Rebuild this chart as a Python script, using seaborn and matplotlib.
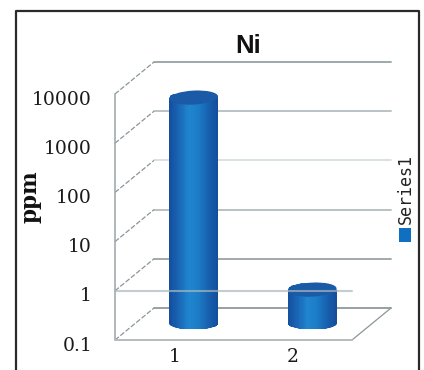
import numpy as np
import matplotlib
matplotlib.use("Agg")
import matplotlib.pyplot as plt
import seaborn as sns
from matplotlib.colors import LinearSegmentedColormap
from matplotlib.lines import Line2D
from matplotlib.patches import Ellipse, PathPatch, Rectangle
from matplotlib.path import Path
from matplotlib.transforms import IdentityTransform, ScaledTranslation

samples = ["1", "2"]
ni_ppm = [4000, 0.5]
tick_values = [0.1, 1, 10, 100, 1000, 10000]
tick_labels = ["0.1", "1", "10", "100", "1000", "10000"]
back_line_colors = ["#8f9a9c", "#98a3a5", "#b3bcbd", "#d6dfe0", "#b4bdc0", "#97a1a4"]

W, H = 424, 370
DPI = 100
DEPTH_X, DEPTH_Y = 39, 32  # pixels, back wall offset

sns.set_theme(style="white")
plt.rcParams["font.family"] = ["DejaVu Serif"]

fig = plt.figure(figsize=(W / DPI, H / DPI), dpi=DPI)
ax = fig.add_axes([115 / W, 1 - 340 / H, 237 / W, 246 / H])
ax.patch.set_alpha(0)

sns.barplot(x=samples, y=ni_ppm, width=0.41, ax=ax, color="#1a62b0")
ax.set_yscale("log")
ax.set_ylim(0.1, 10000)
ax.set_xlim(-0.5, 1.5)
sns.despine(ax=ax, top=True, right=True, left=True, bottom=True)
ax.set_yticks(tick_values)
ax.set_yticklabels([])
ax.minorticks_off()
ax.tick_params(axis="y", length=0)
ax.tick_params(axis="x", length=0, pad=6, labelsize=13.5, labelcolor="#1a1a1a")
ax.set_xlabel("")
ax.set_ylabel("")

fig.canvas.draw()

to_disp = ax.get_yaxis_transform()
back = to_disp + ScaledTranslation(DEPTH_X / DPI, DEPTH_Y / DPI, fig.dpi_scale_trans)

# y labels sit a little under their gridlines
for v, lab in zip(tick_values, tick_labels):
    ax.annotate(lab, xy=(0, v), xycoords=to_disp, xytext=(-16.5, -4), textcoords="offset points",
                fontsize=13.5, color="#1a1a1a", ha="right", va="center", annotation_clip=False)

# walls
grey = "#9aa5a7"
for v, c in zip(tick_values, back_line_colors):
    ax.plot([0, 1], [v, v], transform=back, color=c, lw=1.3, clip_on=False, zorder=0.5)
    p0 = to_disp.transform((0, v))
    p1 = back.transform((0, v))
    ax.add_line(Line2D([p0[0], p1[0]], [p0[1], p1[1]], transform=IdentityTransform(),
                       color="#8b9698", lw=0.9, ls=(0, (4, 1.5)), zorder=0.5, clip_on=False))
ax.plot([0, 0], [0.1, 10000], transform=to_disp, color=grey, lw=1.1, clip_on=False, zorder=0.6)
ax.plot([0, 1], [0.1, 0.1], transform=to_disp, color="#b3bcbe", lw=1.4, clip_on=False, zorder=0.6)
p0 = to_disp.transform((1, 0.1))
p1 = back.transform((1, 0.1))
ax.add_line(Line2D([p0[0], p1[0]], [p0[1], p1[1]], transform=IdentityTransform(),
                   color="#8b9698", lw=0.9, zorder=0.5, clip_on=False))

# cylinders sit half way into the floor depth
mid = ax.transData + ScaledTranslation(DEPTH_X / 2 / DPI, DEPTH_Y / 2 / DPI, fig.dpi_scale_trans)
cyl = LinearSegmentedColormap.from_list(
    "cyl", ["#14509f", "#1a68b8", "#2086cf", "#1c7cc6", "#1762b0", "#134f9c"])
shade = np.linspace(0, 1, 40).reshape(1, -1)

for bar, val in zip(ax.patches, ni_ppm):
    x0, x1 = bar.get_x(), bar.get_x() + bar.get_width()
    bar.set_visible(False)
    ax.set_ylim(0.1, 10000)
    (px0, py0), (px1, py1) = mid.transform([(x0, 0.1), (x1, val)])
    rx = (px1 - px0) / 2
    ry = 7
    ry_bottom = 5.5
    cx = (px0 + px1) / 2
    t = np.linspace(0, np.pi, 30)
    top_arc = np.column_stack([cx + rx * np.cos(t), py1 + ry * np.sin(t)])
    bot_arc = np.column_stack([cx - rx * np.cos(t), py0 - ry_bottom * np.sin(t)])
    verts = np.vstack([top_arc, bot_arc, top_arc[:1]])
    clip = PathPatch(Path(verts), transform=IdentityTransform(), fc="none", ec="none")
    ax.add_patch(clip)
    xs = np.linspace(x0, x1, 41)
    mesh = ax.pcolormesh(xs, [0.02, val * 3], shade, cmap=cyl, transform=mid, zorder=2, shading="flat")
    mesh.set_clip_path(clip)
    ax.add_patch(Ellipse((cx, py1), 2 * rx, 2 * ry, angle=3, transform=IdentityTransform(),
                         fc="#1a5aa6", ec="none", zorder=3, clip_on=False))

ax.set_ylim(0.1, 10000)
ax.set_xlim(-0.5, 1.5)

# axis line at 1 runs across the front of the bars
ax.plot([0, 1], [1, 1], transform=to_disp, color="#a9b8bd", lw=1.5, alpha=0.7, clip_on=False, zorder=5)

fig.text(248 / W, 1 - 46 / H, "Ni", family="Liberation Sans", fontweight="bold", fontsize=18.5,
         color="#111111", ha="center", va="center")
fig.text(31 / W, 1 - 197 / H, "ppm", fontsize=15.5, fontweight="bold", color="#111111",
         rotation=90, ha="center", va="center")

# legend
fig.text(405.5 / W, 1 - 189 / H, "Series1", family="DejaVu Sans Mono", fontsize=12, color="#222222",
         rotation=90, ha="center", va="center")
fig.add_artist(Rectangle((399 / W, 1 - 242 / H), 12 / W, 14 / H, transform=fig.transFigure,
                         fc="#0f6fc0", ec="none"))

# frame, open at the bottom
frame = "#2a2a2a"
fig.add_artist(Line2D([15.5 / W, 15.5 / W, 419 / W, 419 / W], [0, 1 - 10.5 / H, 1 - 10.5 / H, 0],
                      transform=fig.transFigure, color=frame, lw=1.6))

fig.savefig("out.png", dpi=DPI)
